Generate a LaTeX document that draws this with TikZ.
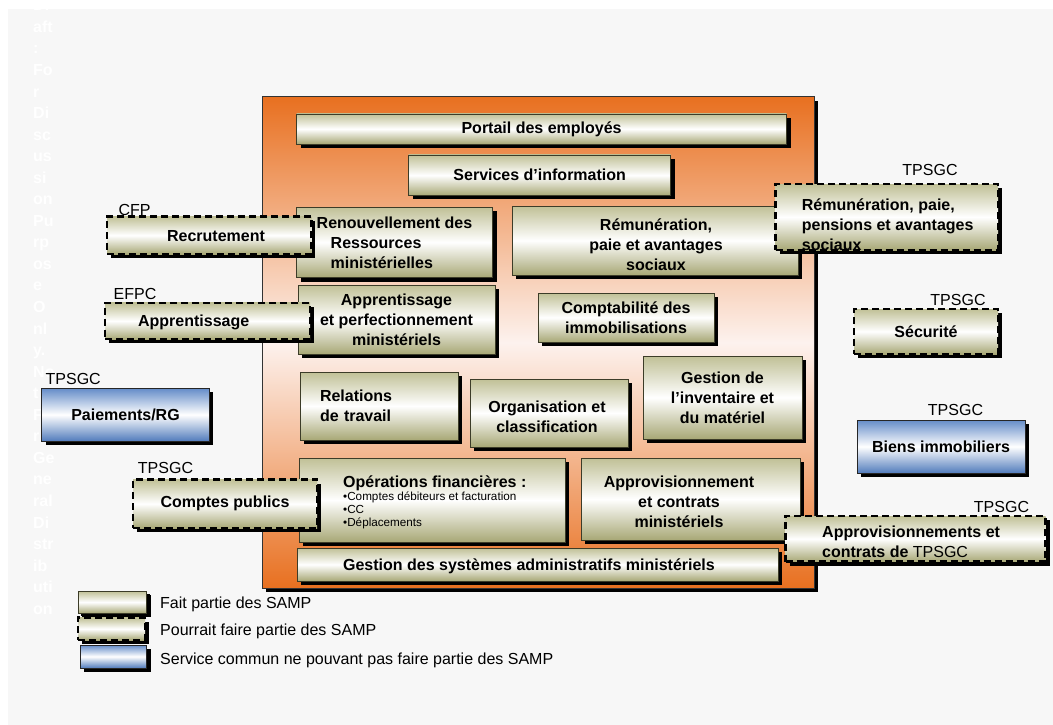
\documentclass[tikz,border=0pt]{standalone}
\usepackage{fontspec}
\setmainfont{Liberation Sans}
\usetikzlibrary{shadows}
\definecolor{bggray}{RGB}{247,247,247}
\definecolor{olivetop}{RGB}{192,192,150}
\definecolor{olivebot}{RGB}{168,168,118}
\definecolor{bluetop}{RGB}{100,140,200}
\definecolor{bluebot}{RGB}{82,124,188}
\definecolor{orng}{RGB}{232,112,32}
\definecolor{orngmid}{RGB}{253,242,238}
\definecolor{boxline}{RGB}{60,60,40}
\newcommand{\fbig}{\fontsize{16}{20}\selectfont\bfseries}
\newcommand{\freg}{\fontsize{16}{20}\selectfont\mdseries}
\newcommand{\fsml}{\fontsize{11.7}{13}\selectfont\mdseries}
\tikzset{
  sbox/.style={rectangle, inner sep=0pt, align=center, font=\fbig,
    drop shadow={shadow xshift=4pt, shadow yshift=-4pt, opacity=1, fill=black}},
  olivebox/.style={sbox, draw=boxline, line width=0.8pt,
    top color=olivetop, bottom color=olivebot, middle color=white},
  dashbox/.style={sbox, draw=black, line width=2.5pt, dash pattern=on 7pt off 4pt,
    top color=olivetop, bottom color=olivebot, middle color=white},
  bluebox/.style={sbox, draw=black!85, line width=1pt,
    top color=bluetop, bottom color=bluebot, middle color=white},
  orangeframe/.style={rectangle, inner sep=0pt, draw=black!80, line width=1pt,
    top color=orng, bottom color=orng, middle color=orngmid,
    drop shadow={shadow xshift=4pt, shadow yshift=-4pt, opacity=1, fill=black}},
  tagtext/.style={font=\freg, inner sep=0pt},
  boldtext/.style={font=\fbig, inner sep=0pt},
  wmark/.style={font=\fbig, text=white, inner sep=0pt, anchor=base west},
}
\begin{document}
\begin{tikzpicture}[x=1pt, y=-1pt]
\useasboundingbox (0,0) rectangle (1053,725);
\fill[white] (0,0) rectangle (1053,725);
\fill[bggray] (8,9) rectangle (1053,725);

% watermark
\foreach \w [count=\i] in {Dr,aft,:,Fo,r,Di,sc,us,si,on,Pu,rp,os,e,O,nl,y.,No,t,Fo,r,Ge,ne,ral,Di,str,ib,uti,on}
  \node[wmark] (wm\i) at (33, {10.8+21.55*(\i-1)}) {\w};

% central frame
\node[orangeframe, minimum width=552pt, minimum height=491pt] (frame) at (538,342.5) {};

% inner boxes
\node[olivebox, minimum width=490pt, minimum height=30pt] (portail) at (541.6,128.9) {Portail des employés};
\node[olivebox, minimum width=262pt, minimum height=40.5pt] (servinfo) at (539.7,175.2) {Services d’information};
\node[olivebox, minimum width=196pt, minimum height=70.6pt, align=left] (renouv) at (394.5,242.3)
  {Renouvellement des\\\hspace*{14pt}Ressources\\\hspace*{14pt}ministérielles};
\node[olivebox, minimum width=286pt, minimum height=69pt] (remun) at (655,240.5) {};
\node[boldtext, align=center] (remun-t) at (656,244.5) {Rémunération,\\paie et avantages\\sociaux};
\node[olivebox, minimum width=197pt, minimum height=69pt] (apprmin) at (396.5,319.5)
  {Apprentissage\\et perfectionnement\\ministériels};
\node[olivebox, minimum width=176pt, minimum height=49pt] (compta) at (626,317.5)
  {Comptabilité des\\immobilisations};
\node[olivebox, minimum width=158pt, minimum height=68pt, text width=118pt, align=left] (relations) at (379,406)
  {Relations\\de travail};
\node[olivebox, minimum width=158pt, minimum height=68pt] (orga) at (549,413) {};
\node[boldtext, align=center] (orga-t) at (547,417) {Organisation et\\classification};
\node[olivebox, minimum width=159pt, minimum height=83pt] (gestinv) at (722.5,397.5)
  {Gestion de\\l’inventaire et\\du matériel};
\node[olivebox, minimum width=266pt, minimum height=84pt] (opfin) at (432,500) {};
\node[boldtext, anchor=base west] (opfin-t) at (343,487.7) {Opérations financières :};
\node[font=\fsml, inner sep=0pt, anchor=west, align=left] (opfin-b) at (343,510)
  {•Comptes débiteurs et facturation\\•CC\\•Déplacements};
\node[olivebox, minimum width=219pt, minimum height=82pt] (appro) at (690.5,499) {};
\node[boldtext, align=center] (appro-t) at (679,501.5) {Approvisionnement\\et contrats\\ministériels};
\node[olivebox, minimum width=481pt, minimum height=33pt] (gestsys) at (537.5,564.5) {};
\node[boldtext] (gestsys-t) at (529,566) {Gestion des systèmes administratifs ministériels};

% left side
\node[dashbox, minimum width=204.4pt, minimum height=37.5pt] (recrut) at (209.2,235.3) {};
\node[boldtext] (recrut-t) at (216,236) {Recrutement};
\node[tagtext] (cfp) at (134.5,210) {CFP};
\node[dashbox, minimum width=205pt, minimum height=36.3pt] (apprent) at (207.5,321) {};
\node[boldtext] (apprent-t) at (193.7,322.7) {Apprentissage};
\node[tagtext] (efpc) at (135,294) {EFPC};
\node[bluebox, minimum width=167.6pt, minimum height=52.7pt] (paie) at (125.5,414.65) {Paiements/RG};
\node[tagtext] (tps5) at (73.2,379.3) {TPSGC};
\node[dashbox, minimum width=184pt, minimum height=48.5pt] (comptes) at (225,503.75) {Comptes publics};
\node[tagtext] (tps6) at (165.5,467.7) {TPSGC};

% right side
\node[dashbox, minimum width=222.3pt, minimum height=66pt] (remtps) at (886.85,217) {};
\node[boldtext, align=left, anchor=west] (remtps-t) at (801.7,224.5)
  {Rémunération, paie,\\pensions et avantages\\sociaux};
\node[tagtext] (tps1) at (930,170) {TPSGC};
\node[dashbox, minimum width=144pt, minimum height=45pt] (secu) at (926,331.5) {Sécurité};
\node[tagtext] (tps2) at (958,300) {TPSGC};
\node[bluebox, minimum width=168pt, minimum height=53pt] (biens) at (941,446.5) {Biens immobiliers};
\node[tagtext] (tps3) at (955.5,410) {TPSGC};
\node[dashbox, minimum width=260pt, minimum height=45.7pt] (approtps) at (915.7,538.85) {};
\node[boldtext, align=left, anchor=west] (approtps-t) at (822,541.5)
  {Approvisionnements et\\contrats de {\freg TPSGC}};
\node[tagtext] (tps4) at (1001.5,507) {TPSGC};

% legend
\node[olivebox, minimum width=68.4pt, minimum height=22.3pt,
  drop shadow={shadow xshift=3pt, shadow yshift=-3pt, opacity=1, fill=black}] (leg1) at (112.5,602.15) {};
\node[tagtext, anchor=base west] (leg1-t) at (160,608.4) {Fait partie des SAMP};
\node[dashbox, minimum width=67pt, minimum height=22.3pt] (leg2) at (111.5,628.85) {};
\node[tagtext, anchor=base west] (leg2-t) at (160,635.7) {Pourrait faire partie des SAMP};
\node[bluebox, minimum width=66.7pt, minimum height=23pt] (leg3) at (113.35,656.5) {};
\node[tagtext, anchor=base west] (leg3-t) at (160,664) {Service commun ne pouvant pas faire partie des SAMP};
\end{tikzpicture}
\end{document}
